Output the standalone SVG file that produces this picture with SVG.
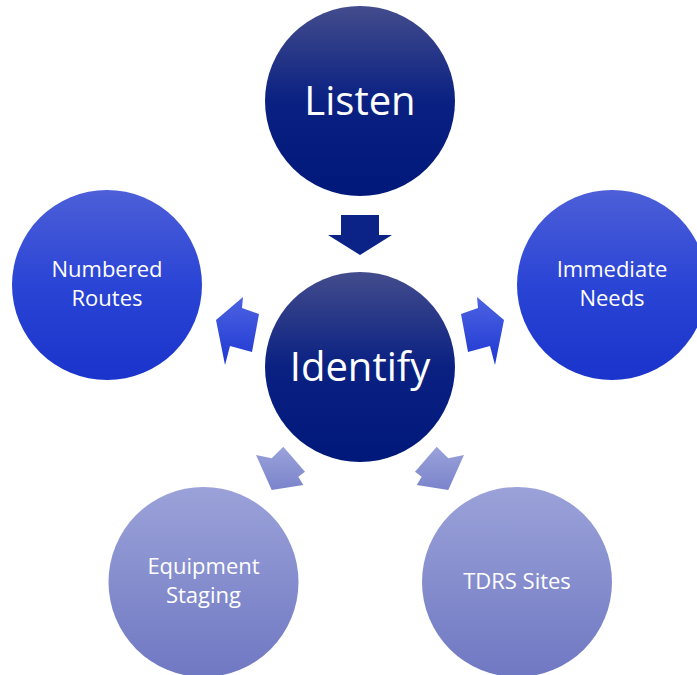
<svg xmlns="http://www.w3.org/2000/svg" width="697" height="675" viewBox="0 0 697 675">
<defs>
<linearGradient id="gDark" x1="0" y1="0" x2="0" y2="1">
<stop offset="0" stop-color="#434c8c"/>
<stop offset="0.5" stop-color="#0a2182"/>
<stop offset="1" stop-color="#00187a"/>
</linearGradient>
<linearGradient id="gMid" x1="0" y1="0" x2="0" y2="1">
<stop offset="0" stop-color="#4d5fd8"/>
<stop offset="0.5" stop-color="#2a44d5"/>
<stop offset="1" stop-color="#1a34cc"/>
</linearGradient>
<linearGradient id="gLight" x1="0" y1="0" x2="0" y2="1">
<stop offset="0" stop-color="#9ba2d9"/>
<stop offset="1" stop-color="#6f78c2"/>
</linearGradient>
<linearGradient id="aMid" x1="0" y1="0" x2="0" y2="1">
<stop offset="0" stop-color="#4d62e2"/>
<stop offset="1" stop-color="#1e38d2"/>
</linearGradient>
<linearGradient id="aLight" x1="0" y1="0" x2="0" y2="1">
<stop offset="0" stop-color="#9aa2da"/>
<stop offset="1" stop-color="#7b84cb"/>
</linearGradient>
</defs>
<style>
text{font-family:"Open Sans","Noto Sans",sans-serif;fill:#ffffff;text-anchor:middle}
.big{font-size:40px}
.small{font-size:22px}
</style>
<g id="connectors">
<polygon points="341,215 379,215 379,235 392,235 360,255 328,235 341,235" fill="#0b2387"/>
<polygon points="243,297 242,308 259,314 252,352 230,346 225,365 216,320" fill="url(#aMid)"/>
<polygon points="477,297 478,308 461,314 468,352 490,346 495,365 504,320" fill="url(#aMid)"/>
<polygon points="256,455 271.7,458.3 283.3,446.7 305,471.7 298.3,476.7 303.3,485 271.7,490" fill="url(#aLight)"/>
<polygon points="464,455 448.3,458.3 436.7,446.7 415,471.7 421.7,476.7 416.7,485 448.3,490" fill="url(#aLight)"/>
</g>
<g id="listen">
<circle cx="360" cy="101" r="95" fill="url(#gDark)"/>
<text class="big" x="360" y="115">Listen</text>
</g>
<g id="identify">
<circle cx="360" cy="367" r="95" fill="url(#gDark)"/>
<text class="big" x="360" y="381">Identify</text>
</g>
<g id="numbered-routes">
<circle cx="107" cy="285" r="95" fill="url(#gMid)"/>
<text class="small" x="107" y="277">Numbered</text>
<text class="small" x="107" y="306">Routes</text>
</g>
<g id="immediate-needs">
<circle cx="612" cy="285" r="95" fill="url(#gMid)"/>
<text class="small" x="612" y="277">Immediate</text>
<text class="small" x="612" y="306">Needs</text>
</g>
<g id="equipment-staging">
<circle cx="203.5" cy="582" r="95" fill="url(#gLight)"/>
<text class="small" x="203.5" y="574">Equipment</text>
<text class="small" x="203.5" y="603">Staging</text>
</g>
<g id="tdrs-sites">
<circle cx="517" cy="582" r="95" fill="url(#gLight)"/>
<text class="small" x="517" y="589">TDRS Sites</text>
</g>
</svg>
